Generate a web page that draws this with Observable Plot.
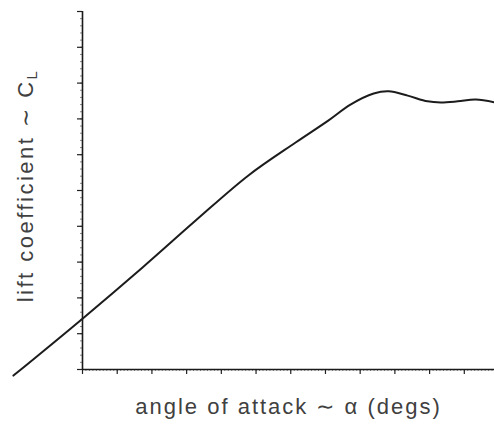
<!DOCTYPE html>
<html><head><meta charset="utf-8">
<script src="https://cdn.jsdelivr.net/npm/d3@7"></script>
<script src="https://cdn.jsdelivr.net/npm/@observablehq/plot@0.6"></script>
<style>
html,body{margin:0;padding:0;background:#fff;}
</style>
</head><body><div id="chart"></div>
<script>
// angle of attack (tick units) and lift coefficient (tick units)
const alpha = [-1.99, 0, 1.73, 3.26, 4.78, 6.14, 7.09, 7.72, 8.39, 8.82, 9.37, 9.94, 10.32, 10.81, 11.33, 11.87];
const cl    = [-0.17, 1.42, 2.85, 4.16, 5.42, 6.34, 6.96, 7.40, 7.71, 7.77, 7.65, 7.49, 7.46, 7.49, 7.54, 7.46];
const xMajorTicks = d3.range(0, 12);
const xMinorTicks = d3.range(0, 119).map(i => i / 10);
const yMajorTicks = d3.range(0, 11);
const yMinorTicks = d3.range(0, 51).map(i => i / 5);
const xLabel = "angle of attack ∼ α (degs)";
const yLabel = "lift coefficient ∼ C";
const ySub = "L";

const data = alpha.map((a, i) => ({alpha: a, cl: cl[i]}));
const none = () => "";

const chart = Plot.plot({
  width: 494, height: 428,
  marginLeft: 82, marginRight: 0, marginTop: 11, marginBottom: 59,
  style: {fontFamily: "'Liberation Sans', Arial, sans-serif", background: "#fff", overflow: "visible"},
  x: {domain: [0, 11.87]},
  y: {domain: [0, 10]},
  marks: [
    Plot.axisX({ticks: xMinorTicks, tickSize: 2, tickFormat: none, label: null, stroke: "#888"}),
    Plot.axisX({ticks: xMajorTicks, tickSize: 5, tickFormat: none, label: null, stroke: "#222", strokeWidth: 1.2}),
    Plot.axisY({ticks: yMinorTicks, tickSize: 2, tickFormat: none, label: null, stroke: "#888"}),
    Plot.axisY({ticks: yMajorTicks, tickSize: 5, tickFormat: none, label: null, stroke: "#222", strokeWidth: 1.2}),
    Plot.ruleX([0], {stroke: "#1a1a1a", strokeWidth: 1.6}),
    Plot.ruleY([0], {stroke: "#1a1a1a", strokeWidth: 1.6}),
    Plot.line(data, {x: "alpha", y: "cl", curve: "catmull-rom", stroke: "#1c1c1c", strokeWidth: 2}),
    Plot.text([xLabel], {text: d => d, frameAnchor: "bottom", textAnchor: "middle", dy: 44, fontSize: 22, fill: "#404040"}),
    Plot.text([yLabel], {text: d => d, frameAnchor: "left", textAnchor: "middle", rotate: -90, dx: -57, dy: -5, fontSize: 22, fill: "#404040"})
  ]
});

const svg = d3.select(chart);
svg.selectAll("text").filter(function() { return this.textContent === xLabel; })
  .attr("letter-spacing", "2px");
svg.selectAll("text").filter(function() { return this.textContent === yLabel; })
  .attr("letter-spacing", "2.5px")
  .append("tspan").attr("dy", "0.3em").attr("font-size", "15px").text(ySub);

document.getElementById("chart").appendChild(chart);
</script>
</body></html>
